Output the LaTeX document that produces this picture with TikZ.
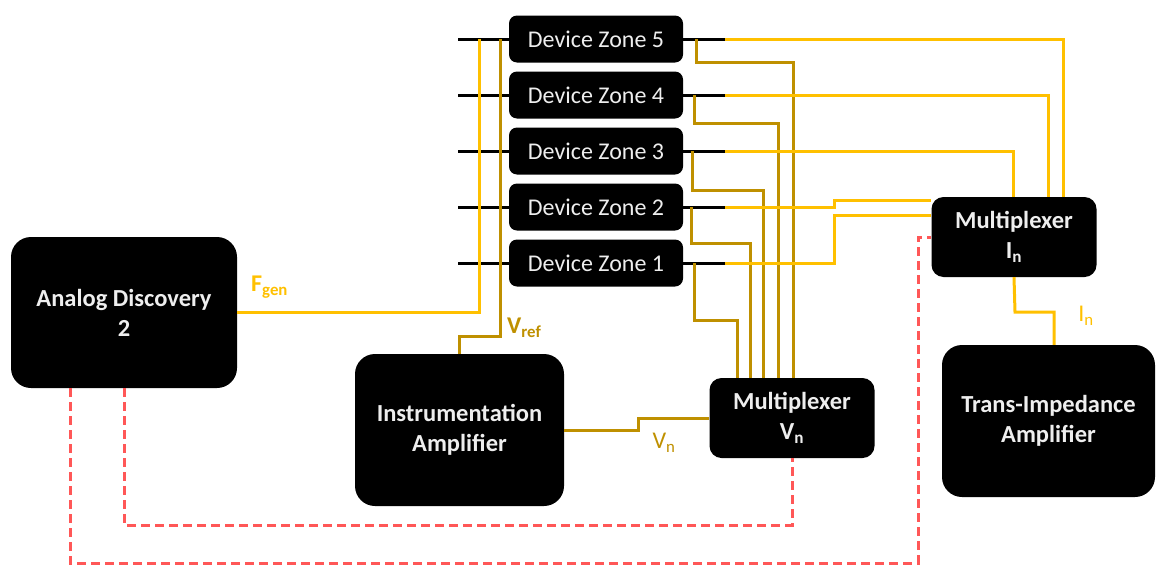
\documentclass[tikz,border=0pt]{standalone}
\usepackage{fontspec}
\setmainfont{Carlito}
\definecolor{ylw}{HTML}{FFC000}
\definecolor{gld}{HTML}{BF9000}
\definecolor{rdl}{HTML}{FF5757}
\definecolor{txtw}{HTML}{EEEEEE}
\begin{document}
\begin{tikzpicture}[x=1pt,y=-1pt,
  blk/.style={fill=black, text=txtw, inner sep=0pt, align=center},
  bigbox/.style={blk, rounded corners=20pt, font=\fontsize{24.5}{30}\selectfont\bfseries},
  muxbox/.style={blk, rounded corners=12pt, minimum width=165pt, minimum height=80pt, font=\fontsize{24.5}{30}\selectfont\bfseries},
  zone/.style={blk, rounded corners=8pt, minimum width=174pt, minimum height=47pt, font=\fontsize{24}{28}\selectfont},
  stub/.style={draw=black, line width=3pt},
  ywire/.style={draw=ylw, line width=3pt},
  gwire/.style={draw=gld, line width=3pt},
  rwire/.style={draw=rdl, line width=3pt, dash pattern=on 9pt off 5pt},
  ylab/.style={text=ylw, font=\fontsize{24}{28}\selectfont\bfseries, inner sep=0pt},
  glab/.style={text=gld, font=\fontsize{24}{28}\selectfont\bfseries, inner sep=0pt}
]
\useasboundingbox (0,0) rectangle (1156,565);

% nodes
\node[bigbox, minimum width=226pt, minimum height=151pt] (ad) at (124,312.5) {Analog Discovery\\2};
\node[bigbox, minimum width=209pt, minimum height=152pt] (ia) at (459.5,430) {Instrumentation\\Amplifier};
\node[bigbox, minimum width=213pt, minimum height=152pt] (tia) at (1048.5,421) {Trans-Impedance\\Amplifier};
\node[muxbox] (mv) at (792,418) {Multiplexer\\V\textsubscript{n}};
\node[muxbox] (mi) at (1014,237) {Multiplexer\\I\textsubscript{n}};
\foreach \k/\yy in {5/39,4/95,3/151,2/207,1/263}{
  \node[zone] (dz\k) at (596,\yy) {Device Zone \k};
}

% black stubs
\foreach \k in {1,...,5}{
  \draw[stub] (dz\k.west) -- ++(-51,0);
  \draw[stub] (dz\k.east) -- ++(42,0);
}

% gold wires from zones to Multiplexer Vn
\draw[gwire] ([xshift=13pt]dz5.east) -- ++(0,23) -| ([xshift=1pt]mv.north);
\draw[gwire] ([xshift=11pt]dz4.east) -- ++(0,28) -| ([xshift=-14pt]mv.north);
\draw[gwire] ([xshift=9pt]dz3.east) -- ++(0,39) -| ([xshift=-29pt]mv.north);
\draw[gwire] ([xshift=8pt]dz2.east) -- ++(0,36) -| ([xshift=-42pt]mv.north);
\draw[gwire] ([xshift=11pt]dz1.east) -- ++(0,57) -| ([xshift=-55pt]mv.north);

% yellow wires from zones to Multiplexer In
\draw[ywire] ([xshift=42pt]dz5.east) -| ([xshift=49pt]mi.north);
\draw[ywire] ([xshift=42pt]dz4.east) -| ([xshift=34pt]mi.north);
\draw[ywire] ([xshift=42pt]dz3.east) -| ([xshift=-1pt]mi.north);
\draw[ywire] ([xshift=42pt]dz2.east) -- (834,207) -- (834,200) -- (mi.west |- 0,200);
\draw[ywire] ([xshift=42pt]dz1.east) -- (834,263) -- (834,215) -- (mi.west |- 0,215);

% F_gen and V_ref
\draw[ywire] (ad.east) -| (479,39);
\draw[gwire] (ia.north) |- (500,336) -- (500,39);
\node[ylab, anchor=west] (fgen) at (251,287) {F\textsubscript{gen}};
\node[glab, anchor=west] (vref) at (507,328) {V\textsubscript{ref}};

% Vn link
\draw[gwire] (ia.east) -- (638,430) -- (638,418) -- (mv.west);
\node[text=gld, font=\fontsize{24}{28}\selectfont, inner sep=0pt] (vn) at (664,443) {V\textsubscript{n}};

% In link
\draw[ywire] (mi.south) -- (1015,312) -- (1054,312) -- (tia.north -| 1054,0);
\node[text=ylw, font=\fontsize{24}{28}\selectfont, inner sep=0pt] (inl) at (1086,316) {I\textsubscript{n}};

% red dashed control lines
\draw[rwire] (ad.south) |- (mv.south |- 0,525) -- (mv.south);
\draw[rwire] ([xshift=-54pt]ad.south) |- (918,563) |- (mi.west |- 0,237) -- (mi.west);
\end{tikzpicture}
\end{document}
